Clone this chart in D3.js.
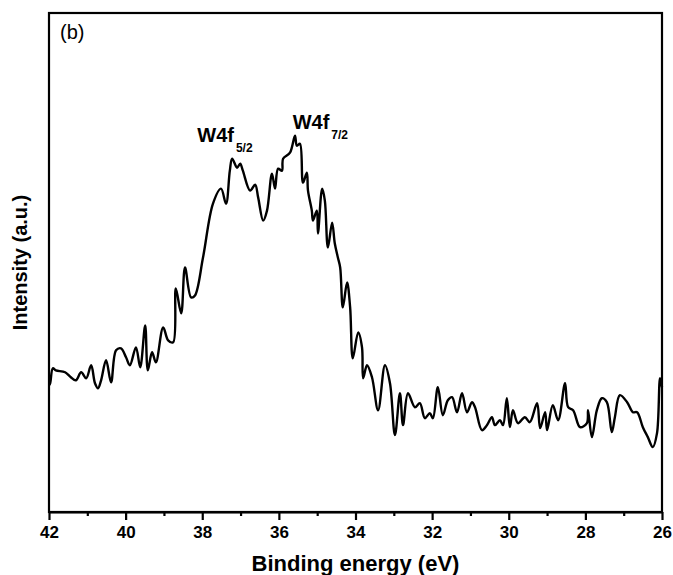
<!DOCTYPE html>
<html>
<head>
<meta charset="utf-8">
<script src="https://cdn.jsdelivr.net/npm/d3@7"></script>
<style>
  html, body { margin: 0; padding: 0; background: #fff; }
  svg { display: block; }
  text { font-family: "Liberation Sans", Arial, sans-serif; fill: #000; }
</style>
</head>
<body>
<div id="chart"></div>
<script>
// W 4f XPS spectrum: binding energy (eV) and intensity (a.u.)
const energy = [
  42.00, 41.97, 41.90, 41.82, 41.58, 41.43, 41.30, 41.16, 41.03, 40.90,
  40.80, 40.72, 40.64, 40.51, 40.38, 40.25, 40.12, 39.99, 39.89, 39.73,
  39.62, 39.49, 39.42, 39.31, 39.21, 39.02, 38.89, 38.76, 38.69, 38.55,
  38.45, 38.29, 38.19, 37.98, 37.72, 37.51, 37.38, 37.28, 37.22, 37.09,
  37.01, 36.94, 36.75, 36.62, 36.54, 36.41, 36.31, 36.18, 36.10, 36.02,
  35.92, 35.89, 35.71, 35.58, 35.53, 35.45, 35.37, 35.27, 35.24, 35.14,
  35.11, 35.01, 34.98, 34.87, 34.80, 34.72, 34.61, 34.54, 34.46, 34.40,
  34.33, 34.22, 34.14, 34.07, 33.93, 33.83, 33.80, 33.70, 33.57, 33.41,
  33.23, 33.10, 32.97, 32.84, 32.76, 32.63, 32.45, 32.32, 32.19, 32.06,
  31.98, 31.85, 31.72, 31.59, 31.48, 31.35, 31.22, 31.09, 30.96, 30.88,
  30.70, 30.57, 30.44, 30.36, 30.23, 30.15, 30.05, 29.97, 29.89, 29.76,
  29.58, 29.45, 29.26, 29.18, 29.05, 29.00, 28.85, 28.71, 28.53, 28.45,
  28.32, 28.14, 27.96, 27.93, 27.83, 27.70, 27.57, 27.44, 27.31, 27.23,
  27.10, 26.91, 26.76, 26.65, 26.50, 26.37, 26.24, 26.13, 26.05, 26.00
];
const intensity = [
  254, 258, 288, 284, 280, 270, 264, 280, 268, 294,
  258, 248, 264, 304, 260, 324, 328, 310, 294, 330,
  290, 374, 284, 320, 300, 370, 344, 340, 448, 398,
  490, 430, 434, 510, 618, 648, 618, 684, 708, 690,
  698, 684, 644, 656, 630, 584, 604, 678, 648, 688,
  684, 708, 720, 754, 734, 738, 660, 680, 644, 604,
  584, 604, 558, 648, 624, 530, 580, 538, 510, 490,
  410, 460, 410, 308, 360, 330, 268, 294, 270, 204,
  294, 258, 154, 238, 174, 238, 210, 218, 188, 198,
  188, 250, 194, 224, 230, 200, 238, 200, 220, 210,
  164, 174, 190, 174, 184, 174, 228, 170, 204, 178,
  190, 180, 218, 168, 200, 164, 214, 184, 258, 210,
  204, 170, 178, 204, 150, 204, 228, 220, 160, 190,
  234, 220, 200, 200, 170, 150, 130, 158, 268, 250
];
const majorTicks = [42, 40, 38, 36, 34, 32, 30, 28, 26];
const minorTicks = [41, 39, 37, 35, 33, 31, 29, 27];
const peakLabels = [
  { main: "W4f", sub: "5/2", e: 38.13, v: 742 },
  { main: "W4f", sub: "7/2", e: 35.64, v: 768 }
];

const width = 673, height = 575;
const margin = { top: 13, right: 11, bottom: 63, left: 49 };
const iw = width - margin.left - margin.right;
const ih = height - margin.top - margin.bottom;

const svg = d3.select("#chart").append("svg")
  .attr("width", width).attr("height", height);

const x = d3.scaleLinear().domain([42, 26]).range([margin.left, margin.left + iw]);
const y = d3.scaleLinear().domain([0, 1000]).range([margin.top + ih, margin.top]);

const pts = energy.map((e, i) => [e, intensity[i]]);

// spectrum trace
const line = d3.line()
  .x(d => x(d[0]))
  .y(d => y(d[1]))
  .curve(d3.curveCatmullRom.alpha(0.5));

svg.append("path")
  .datum(pts)
  .attr("d", line)
  .attr("fill", "none")
  .attr("stroke", "#000")
  .attr("stroke-width", 2.4)
  .attr("stroke-linejoin", "round");

// frame
svg.append("rect")
  .attr("x", margin.left).attr("y", margin.top)
  .attr("width", iw).attr("height", ih)
  .attr("fill", "none").attr("stroke", "#000").attr("stroke-width", 2.2);

// bottom axis: major ticks with labels, minor ticks without
const axMajor = svg.append("g")
  .attr("transform", `translate(0,${margin.top + ih})`)
  .call(d3.axisBottom(x).tickValues(majorTicks).tickSize(8).tickSizeOuter(0).tickPadding(6)
    .tickFormat(d3.format("d")));
axMajor.select(".domain").attr("stroke-width", 2.2);
axMajor.selectAll(".tick line").attr("stroke-width", 2.2);
axMajor.selectAll(".tick text")
  .attr("font-family", "Liberation Sans, Arial, sans-serif")
  .attr("font-size", 17).attr("font-weight", "bold");

const axMinor = svg.append("g")
  .attr("transform", `translate(0,${margin.top + ih})`)
  .call(d3.axisBottom(x).tickValues(minorTicks).tickSize(4).tickSizeOuter(0).tickFormat(""));
axMinor.select(".domain").remove();
axMinor.selectAll(".tick line").attr("stroke-width", 2.2);

// axis titles
svg.append("text")
  .attr("x", margin.left + iw / 2).attr("y", 571)
  .attr("text-anchor", "middle")
  .attr("font-size", 22).attr("font-weight", "bold")
  .text("Binding energy (eV)");

svg.append("text")
  .attr("transform", `translate(27,${margin.top + ih / 2}) rotate(-90)`)
  .attr("text-anchor", "middle")
  .attr("font-size", 20).attr("font-weight", "bold")
  .text("Intensity (a.u.)");

// panel tag
svg.append("text")
  .attr("x", 60).attr("y", 39)
  .attr("font-size", 20)
  .text("(b)");

// peak annotations with subscripts
peakLabels.forEach(p => {
  const t = svg.append("text")
    .attr("x", x(p.e)).attr("y", y(p.v))
    .attr("font-size", 20).attr("font-weight", "bold");
  t.append("tspan").text(p.main);
  t.append("tspan").attr("font-size", 12).attr("dy", 10).attr("dx", 2).text(p.sub);
});
</script>
</body>
</html>
